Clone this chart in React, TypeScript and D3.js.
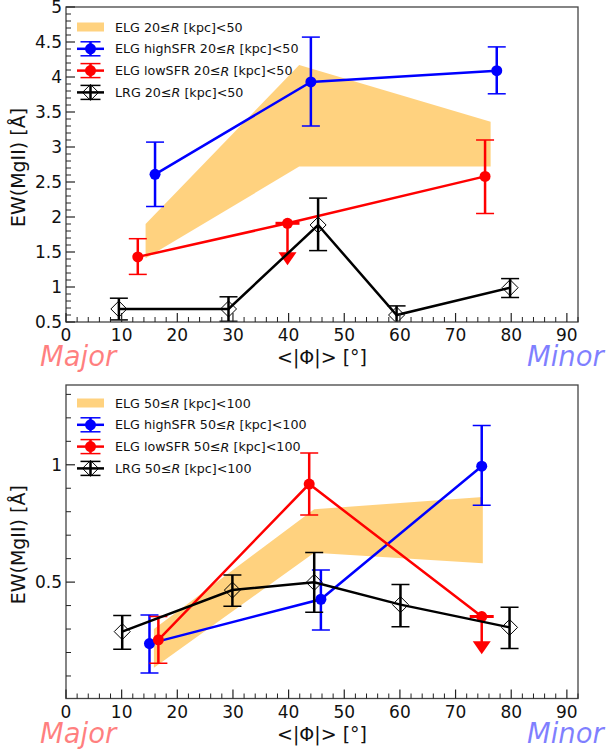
import React from "react";
import * as d3 from "d3";

const W = 607;
const H = 751;
const FONT = "DejaVu Sans";

// ---------- shared axis ----------
const xMajorTicks = [0, 10, 20, 30, 40, 50, 60, 70, 80, 90];

// ---------- panel 1 (20 <= R < 50) ----------
const p1Range = ["20", "50"];
const p1BandX = [14.3, 41.9, 76.3];
const p1BandLow = [1.41, 2.72, 2.72];
const p1BandHigh = [1.9, 4.17, 3.36];
const p1BlueX = [16.0, 44.0, 77.4];
const p1BlueY = [2.61, 3.93, 4.09];
const p1BlueLo = [2.15, 3.3, 3.76];
const p1BlueHi = [3.07, 4.57, 4.43];
const p1RedX = [12.9, 39.8, 75.3];
const p1RedY = [1.43, 1.91, 2.58];
const p1RedLo = [1.18, null, 2.05];
const p1RedHi = [1.69, null, 3.1];
const p1RedLimit = [false, true, false];
const p1RedLimitLen = 0.6;
const p1BlackX = [9.5, 29.2, 45.3, 59.4, 79.8];
const p1BlackY = [0.686, 0.686, 1.886, 0.6, 0.99];
const p1BlackLo = [0.53, 0.51, 1.52, 0.48, 0.85];
const p1BlackHi = [0.84, 0.86, 2.27, 0.73, 1.12];
const p1YMajor = [0.5, 1, 1.5, 2, 2.5, 3, 3.5, 4, 4.5, 5];

// ---------- panel 2 (50 <= R < 100) ----------
const p2Range = ["50", "100"];
const p2BandX = [15.8, 44.6, 74.9];
const p2BandLow = [0.135, 0.625, 0.58];
const p2BandHigh = [0.3, 0.81, 0.863];
const p2BlueX = [15.0, 45.8, 74.7];
const p2BlueY = [0.238, 0.427, 0.994];
const p2BlueLo = [0.113, 0.296, 0.828];
const p2BlueHi = [0.36, 0.552, 1.167];
const p2RedX = [16.6, 43.7, 74.7];
const p2RedY = [0.254, 0.918, 0.353];
const p2RedLo = [0.154, 0.786, null];
const p2RedHi = [0.353, 1.05, null];
const p2RedLimit = [false, false, true];
const p2RedLimitLen = 0.16;
const p2BlackX = [10.1, 29.9, 44.6, 60.1, 79.7];
const p2BlackY = [0.289, 0.466, 0.499, 0.404, 0.307];
const p2BlackLo = [0.214, 0.397, 0.372, 0.31, 0.217];
const p2BlackHi = [0.358, 0.53, 0.626, 0.49, 0.393];
const p2YMajor = [0.5, 1];

type Series = {
  x: number[];
  y: number[];
  lo: (number | null)[];
  hi: (number | null)[];
  limit?: boolean[];
  limitLen?: number;
};

type PanelProps = {
  top: number;
  bottom: number;
  yDomain: [number, number];
  yMajor: number[];
  yMinorStep: number;
  range: string[];
  bandX: number[];
  bandLow: number[];
  bandHigh: number[];
  blue: Series;
  red: Series;
  black: Series;
  legendTop: number;
};

const X0 = 66;
const X1 = 578;

function ErrBars({ s, x, y, color, cap }: any) {
  return (
    <g>
      {s.x.map((xv: number, i: number) => {
        if (s.limit && s.limit[i]) {
          const px = x(xv);
          const py = y(s.y[i]);
          const tip = y(s.y[i] - (s.limitLen || 0));
          const th = 13;
          return (
            <g key={i}>
              <line x1={px - 12} x2={px + 12} y1={py} y2={py} stroke={color} strokeWidth={3} />
              <line x1={px} x2={px} y1={py} y2={tip - th + 1} stroke={color} strokeWidth={2.5} />
              <path d={`M${px - 9},${tip - th} L${px + 9},${tip - th} L${px},${tip} Z`} fill={color} />
            </g>
          );
        }
        const lo = s.lo[i];
        const hi = s.hi[i];
        if (lo == null || hi == null) return null;
        const px = x(xv);
        return (
          <g key={i}>
            <line x1={px} x2={px} y1={y(lo)} y2={y(hi)} stroke={color} strokeWidth={2.5} />
            <line x1={px - cap} x2={px + cap} y1={y(lo)} y2={y(lo)} stroke={color} strokeWidth={1.5} />
            <line x1={px - cap} x2={px + cap} y1={y(hi)} y2={y(hi)} stroke={color} strokeWidth={1.5} />
          </g>
        );
      })}
    </g>
  );
}

function SeriesG({ s, x, y, color, diamond }: any) {
  const line = d3
    .line<number>()
    .x((_, i) => x(s.x[i]))
    .y((d) => y(d));
  return (
    <g>
      <path d={line(s.y) || ""} fill="none" stroke={color} strokeWidth={2.5} strokeLinejoin="miter" />
      <ErrBars s={s} x={x} y={y} color={color} cap={9} />
      {s.y.map((v: number, i: number) => {
        const px = x(s.x[i]);
        const py = y(v);
        if (diamond) {
          return (
            <path
              key={i}
              d={`M${px},${py - 8} L${px + 8},${py} L${px},${py + 8} L${px - 8},${py} Z`}
              fill="none"
              stroke="black"
              strokeWidth={1}
            />
          );
        }
        return <circle key={i} cx={px} cy={py} r={5.5} fill={color} />;
      })}
    </g>
  );
}

function LegendLabel({ prefix, range, x, y }: any) {
  return (
    <text x={x} y={y} fontFamily={FONT} fontSize={12.7} dominantBaseline="central" fill="#111">
      {prefix + " " + range[0] + "≤"}
      <tspan fontStyle="italic">R</tspan>
      {" [kpc]<" + range[1]}
    </text>
  );
}

function Panel(p: PanelProps) {
  const x = d3.scaleLinear().domain([0, 92]).range([X0, X1]);
  const y = d3.scaleLinear().domain(p.yDomain).range([p.bottom, p.top]);
  const xMinor = d3.range(0, 93, 2).filter((v) => v % 10 !== 0);
  const yMinor = d3
    .range(Math.ceil(p.yDomain[0] / p.yMinorStep) * p.yMinorStep, p.yDomain[1] + 1e-9, p.yMinorStep)
    .filter((v) => !p.yMajor.some((m) => Math.abs(m - v) < 1e-6));

  const area = d3
    .area<number>()
    .x((_, i) => x(p.bandX[i]))
    .y0((_, i) => y(p.bandLow[i]))
    .y1((d) => y(d));

  const lt = p.legendTop;
  const step = 21.8;
  const hx0 = 77;
  const hx1 = 104;
  const hc = (hx0 + hx1) / 2;
  const tx = 115;
  const fmt = (v: number) => String(+v.toFixed(1));

  const legendHandle = (cy: number, color: string, diamond: boolean) => (
    <g>
      <line x1={hx0} x2={hx1} y1={cy} y2={cy} stroke={color} strokeWidth={2.5} />
      <line x1={hc} x2={hc} y1={cy - 7} y2={cy + 7} stroke={color} strokeWidth={2.5} />
      <line x1={hc - 10} x2={hc + 10} y1={cy - 7} y2={cy - 7} stroke={color} strokeWidth={1.5} />
      <line x1={hc - 10} x2={hc + 10} y1={cy + 7} y2={cy + 7} stroke={color} strokeWidth={1.5} />
      {diamond ? (
        <path d={`M${hc},${cy - 8} L${hc + 8},${cy} L${hc},${cy + 8} L${hc - 8},${cy} Z`} fill="none" stroke="black" strokeWidth={1} />
      ) : (
        <circle cx={hc} cy={cy} r={5.5} fill={color} />
      )}
    </g>
  );

  const midY = (p.top + p.bottom) / 2;

  return (
    <g>
      <defs>
        <clipPath id={"clip" + p.top}>
          <rect x={X0} y={p.top} width={X1 - X0} height={p.bottom - p.top} />
        </clipPath>
      </defs>
      <g clipPath={`url(#clip${p.top})`}>
        <path d={area(p.bandHigh) || ""} fill="orange" fillOpacity={0.5} />
        <SeriesG s={p.blue} x={x} y={y} color="#0000ff" />
        <SeriesG s={p.red} x={x} y={y} color="#ff0000" />
        <SeriesG s={p.black} x={x} y={y} color="black" diamond />
      </g>

      {/* frame */}
      <rect x={X0} y={p.top} width={X1 - X0} height={p.bottom - p.top} fill="none" stroke="#444" strokeWidth={1.3} />

      {/* x ticks */}
      {xMajorTicks.map((v) => (
        <g key={"xm" + v}>
          <line x1={x(v)} x2={x(v)} y1={p.bottom} y2={p.bottom - 9} stroke="#222" strokeWidth={1.2} />
          <text x={x(v)} y={p.bottom + 13} fontFamily={FONT} fontSize={17} textAnchor="middle" dominantBaseline="central" fill="#111">
            {v}
          </text>
        </g>
      ))}
      {xMinor.map((v) => (
        <line key={"xn" + v} x1={x(v)} x2={x(v)} y1={p.bottom} y2={p.bottom - 5} stroke="#222" strokeWidth={1} />
      ))}

      {/* y ticks */}
      {p.yMajor.map((v) => (
        <g key={"ym" + v}>
          <line x1={X0} x2={X0 + 9} y1={y(v)} y2={y(v)} stroke="#222" strokeWidth={1.2} />
          <text x={62} y={y(v)} fontFamily={FONT} fontSize={17} textAnchor="end" dominantBaseline="central" fill="#111">
            {fmt(v)}
          </text>
        </g>
      ))}
      {yMinor.map((v) => (
        <line key={"yn" + v} x1={X0} x2={X0 + 5} y1={y(v)} y2={y(v)} stroke="#222" strokeWidth={1} />
      ))}

      {/* axis labels */}
      <text x={(X0 + X1) / 2} y={p.bottom + 42} fontFamily={FONT} fontSize={19} textAnchor="middle" fill="#111">
        {"<|Φ|> [°]"}
      </text>
      <text
        transform={`translate(18,${midY + 3}) rotate(-90)`}
        fontFamily={FONT}
        fontSize={19}
        textAnchor="middle"
        dominantBaseline="central"
        fill="#111"
      >
        {"EW(MgII) [Å]"}
      </text>
      <text x={40} y={p.bottom + 44} fontFamily={FONT} fontSize={27.5} fontStyle="italic" fill="#ff0000" fillOpacity={0.5}>
        Major
      </text>
      <text x={527} y={p.bottom + 44} fontFamily={FONT} fontSize={27.5} fontStyle="italic" fill="#0000ff" fillOpacity={0.5}>
        Minor
      </text>

      {/* legend */}
      <rect x={hx0} y={lt - 4.5} width={hx1 - hx0} height={9} fill="orange" fillOpacity={0.5} />
      <LegendLabel prefix="ELG" range={p.range} x={tx} y={lt} />
      {legendHandle(lt + step, "#0000ff", false)}
      <LegendLabel prefix="ELG highSFR" range={p.range} x={tx} y={lt + step} />
      {legendHandle(lt + 2 * step, "#ff0000", false)}
      <LegendLabel prefix="ELG lowSFR" range={p.range} x={tx} y={lt + 2 * step} />
      {legendHandle(lt + 3 * step, "black", true)}
      <LegendLabel prefix="LRG" range={p.range} x={tx} y={lt + 3 * step} />
    </g>
  );
}

export default function App() {
  return (
    <div style={{ position: "fixed", left: 0, top: 0 }}>
      <svg width={W} height={H} viewBox={`0 0 ${W} ${H}`} style={{ display: "block", background: "white" }}>
        <rect width={W} height={H} fill="white" />
        <Panel
          top={7}
          bottom={322}
          yDomain={[0.5, 5]}
          yMajor={p1YMajor}
          yMinorStep={0.1}
          range={p1Range}
          bandX={p1BandX}
          bandLow={p1BandLow}
          bandHigh={p1BandHigh}
          blue={{ x: p1BlueX, y: p1BlueY, lo: p1BlueLo, hi: p1BlueHi }}
          red={{ x: p1RedX, y: p1RedY, lo: p1RedLo, hi: p1RedHi, limit: p1RedLimit, limitLen: p1RedLimitLen }}
          black={{ x: p1BlackX, y: p1BlackY, lo: p1BlackLo, hi: p1BlackHi }}
          legendTop={27}
        />
        <Panel
          top={385}
          bottom={698.5}
          yDomain={[0.004, 1.34]}
          yMajor={p2YMajor}
          yMinorStep={0.1}
          range={p2Range}
          bandX={p2BandX}
          bandLow={p2BandLow}
          bandHigh={p2BandHigh}
          blue={{ x: p2BlueX, y: p2BlueY, lo: p2BlueLo, hi: p2BlueHi }}
          red={{ x: p2RedX, y: p2RedY, lo: p2RedLo, hi: p2RedHi, limit: p2RedLimit, limitLen: p2RedLimitLen }}
          black={{ x: p2BlackX, y: p2BlackY, lo: p2BlackLo, hi: p2BlackHi }}
          legendTop={403}
        />
      </svg>
    </div>
  );
}
